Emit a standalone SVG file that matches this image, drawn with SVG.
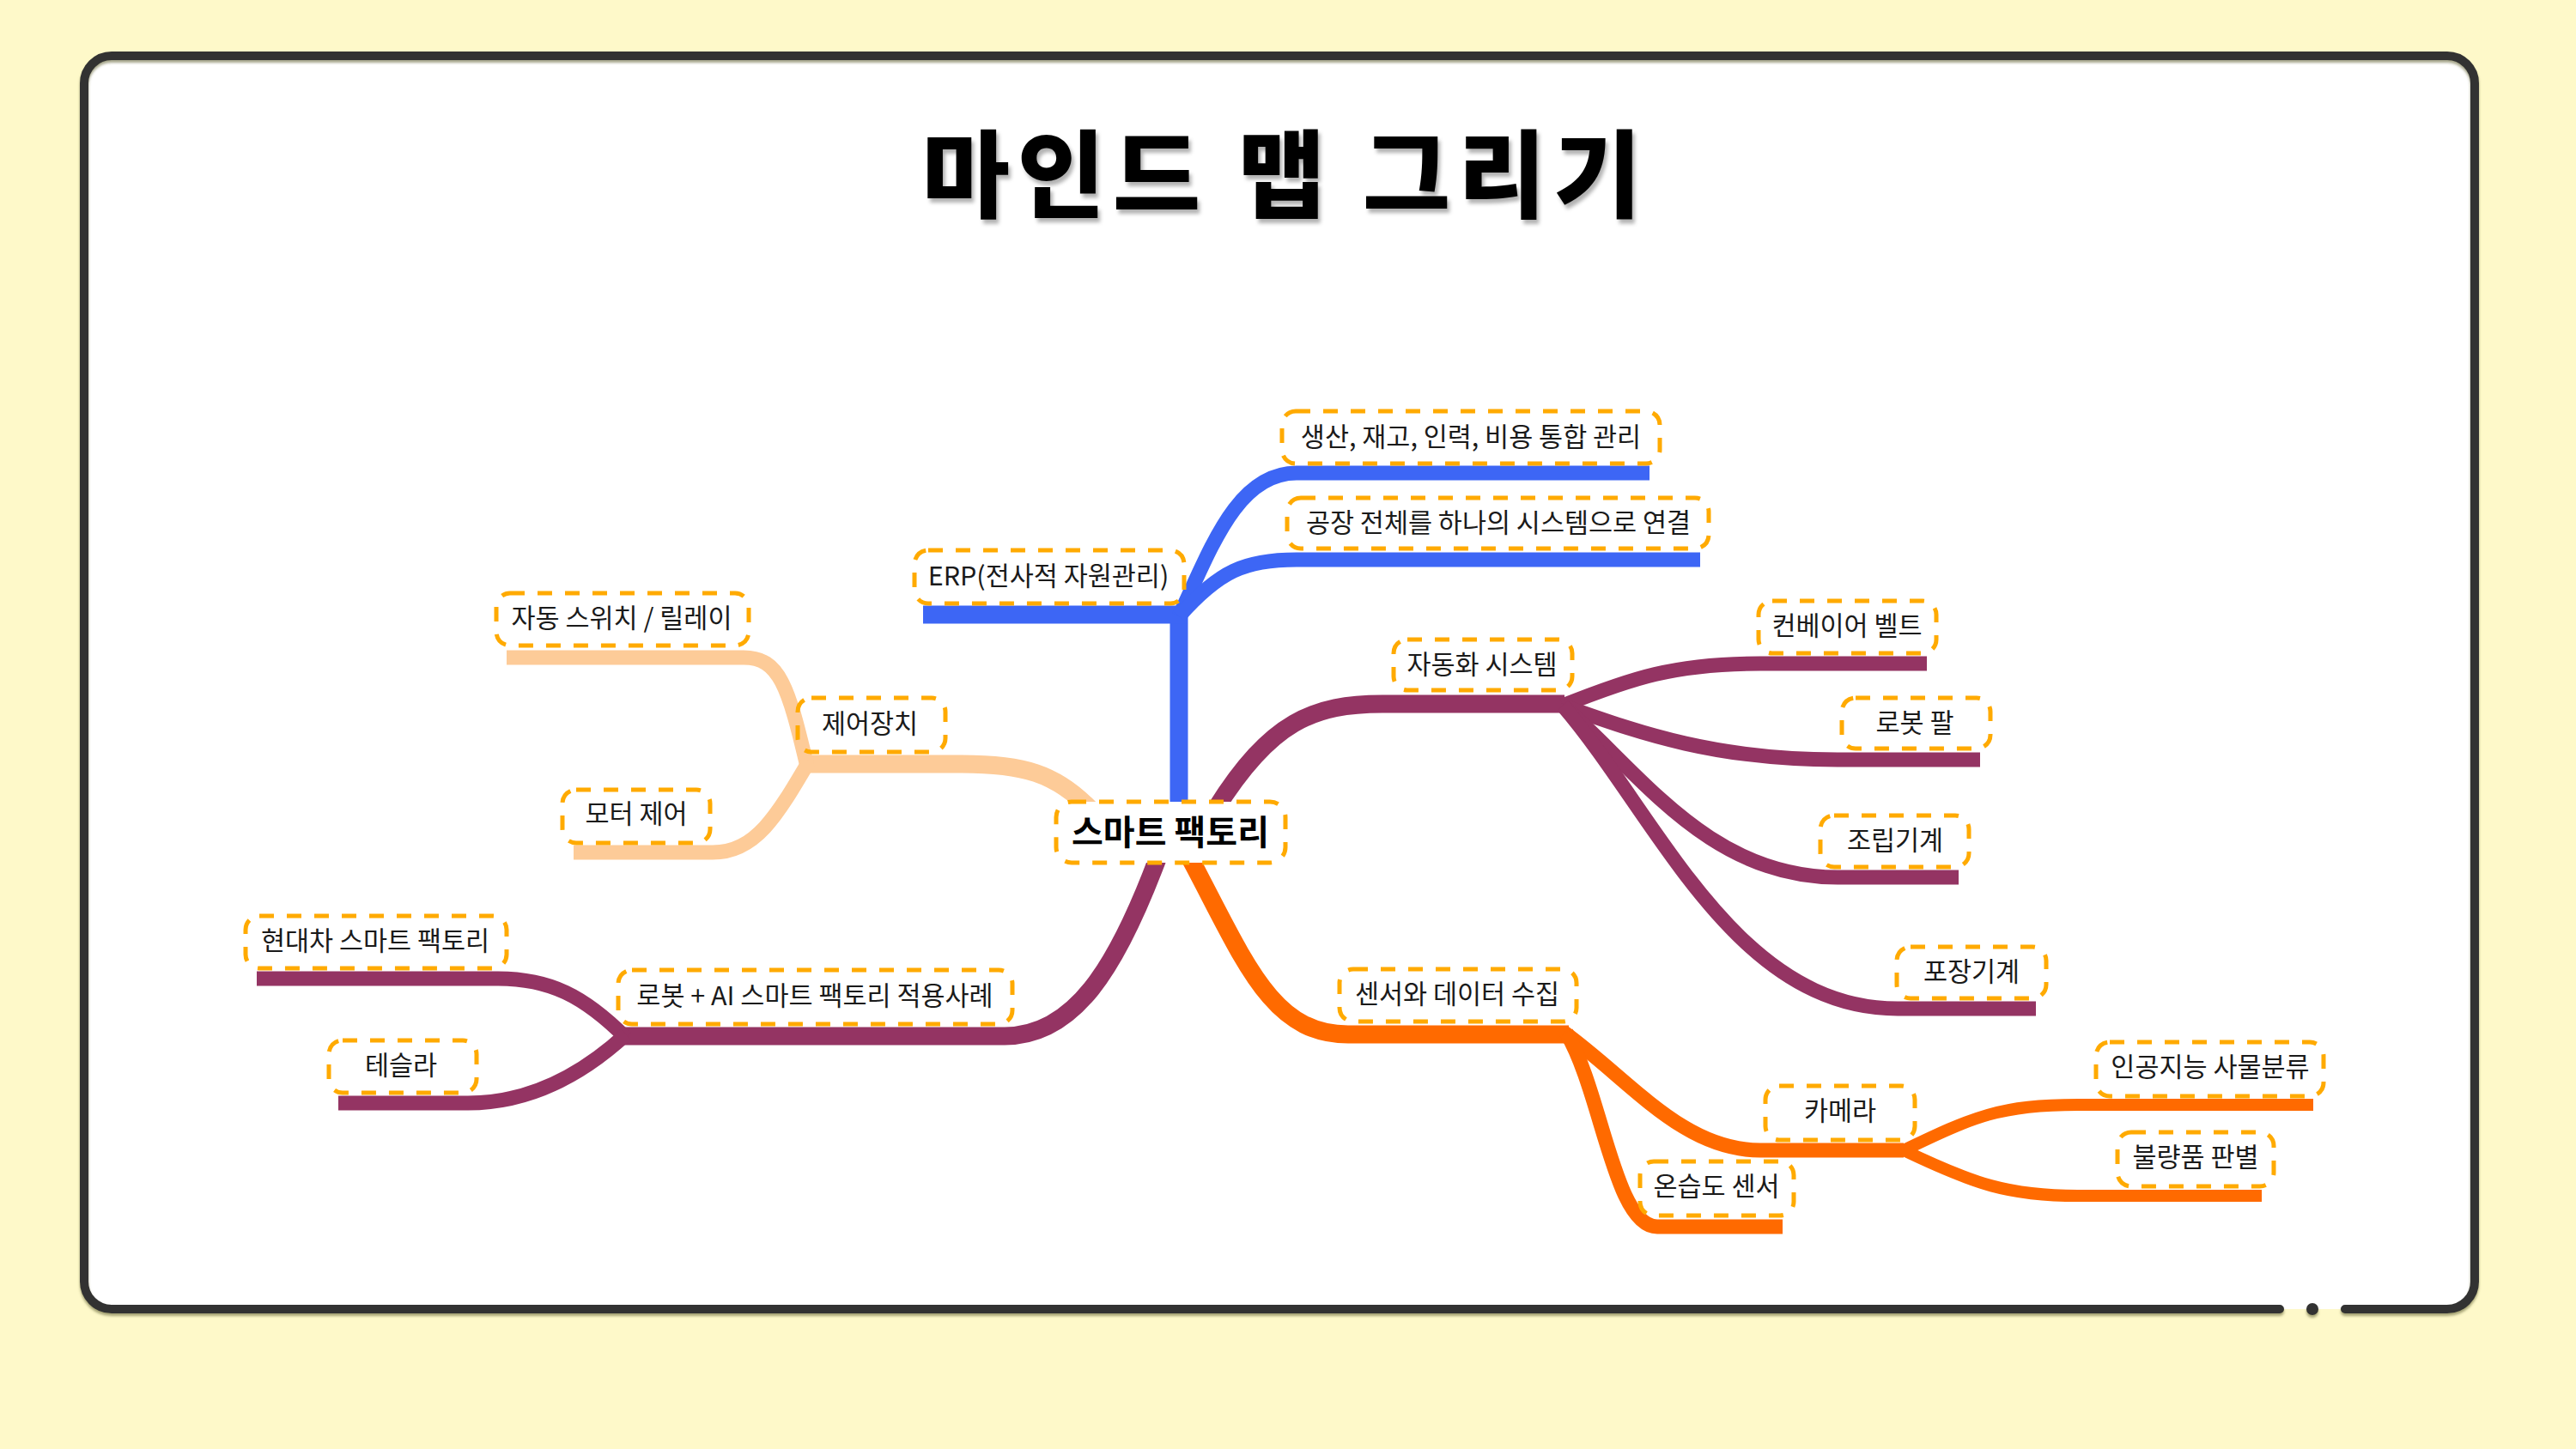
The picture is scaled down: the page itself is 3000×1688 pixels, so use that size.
<svg xmlns="http://www.w3.org/2000/svg" width="3000" height="1688" viewBox="0 0 3000 1688">
<defs>
<filter id="tsh" x="-10%" y="-20%" width="120%" height="150%"><feDropShadow dx="3" dy="5" stdDeviation="2" flood-color="#000" flood-opacity="0.3"/></filter>
<filter id="fsh" x="-5%" y="-5%" width="110%" height="110%"><feDropShadow dx="0" dy="3" stdDeviation="1.5" flood-color="#6b6a3a" flood-opacity="0.6"/></filter>
<style>
.bg{fill:#FEF9C9}
.frame{fill:none;stroke:#333333;stroke-width:10;stroke-linecap:round}
.title{font-family:"Noto Sans CJK KR","Noto Sans",sans-serif;font-weight:900;font-size:111px;letter-spacing:9px;fill:#000;text-anchor:middle}
.c{fill:none;stroke-linecap:butt}
.blue{stroke:#3D66F5}
.purple{stroke:#943463}
.peach{stroke:#FDCB98}
.orange{stroke:#FF6A00}
.w1{stroke-width:21}
.w2{stroke-width:17}
.w3{stroke-width:14}
.box{fill:none;stroke:#FFAA00;stroke-width:5;stroke-dasharray:17 15}
.cbox{fill:#FFFFFF;stroke:#FFAA00;stroke-width:5;stroke-dasharray:17 15}
.t{font-family:"Noto Sans CJK KR","Noto Sans",sans-serif;font-size:30.5px;fill:#1a1a1a;text-anchor:middle}
.tc{font-family:"Noto Sans CJK KR","Noto Sans",sans-serif;font-size:40px;font-weight:700;fill:#000;text-anchor:middle}
</style>
</defs>
<rect class="bg" x="0" y="0" width="3000" height="1688"/>
<rect x="98" y="65" width="2784" height="1460" rx="32" fill="#FFFFFF"/>
<g filter="url(#fsh)">
<path class="frame" d="M2655,1525 H130 A32,32 0 0 1 98,1493 V97 A32,32 0 0 1 130,65 H2850 A32,32 0 0 1 2882,97 V1493 A32,32 0 0 1 2850,1525 H2731"/>
<circle cx="2693" cy="1525" r="7" fill="#333333"/>
</g>
<text class="title" x="1497" y="245" filter="url(#tsh)">마인드 맵 그리기</text>

<g id="connectors">
<path class="c blue w1" d="M1373,945 V706"/>
<path class="c blue w1" d="M1075,716 H1383"/>
<path class="c blue w2" d="M1373,718 C1410,640 1440,551 1510,551 H1921"/>
<path class="c blue w2" d="M1373,718 C1420,665 1450,652 1510,652 H1980"/>
<path class="c peach w1" d="M1272,945 C1230,900 1190,890 1120,890 H936"/>
<path class="c peach w2" d="M940,893 C918,800 908,766 866,766 H590"/>
<path class="c peach w2" d="M942,887 C905,950 880,993 830,993 H668"/>
<path class="c purple w1" d="M1416,942 C1480,840 1530,820 1610,820 H1822"/>
<path class="c purple w2" d="M1820,822 C1900,790 1950,773 2050,773 H2244"/>
<path class="c purple w2" d="M1820,822 C1900,850 1990,885 2140,885 H2306"/>
<path class="c purple w2" d="M1820,822 C1910,900 1990,1022 2140,1022 H2281"/>
<path class="c purple w2" d="M1820,822 C1930,950 2020,1175 2210,1175 H2371"/>
<path class="c purple w1" d="M1350,995 C1300,1130 1250,1207 1170,1207 H727"/>
<path class="c purple w2" d="M729,1209 C680,1160 640,1140 580,1140 H299"/>
<path class="c purple w2" d="M729,1205 C680,1250 620,1285 545,1285 H394"/>
<path class="c orange w1" d="M1385,998 C1450,1120 1480,1205 1570,1205 H1827"/>
<path class="c orange w2" d="M1822,1203 C1900,1260 1960,1340 2050,1340 H2217"/>
<path class="c orange w2" d="M1824,1203 C1865,1270 1880,1429 1930,1429 H2076"/>
<path class="c orange w3" d="M2215,1341 C2300,1300 2330,1287 2420,1287 H2694"/>
<path class="c orange w3" d="M2215,1339 C2300,1380 2340,1393 2420,1393 H2634"/>
</g>

<g id="node-center"><rect class="cbox" x="1230" y="934" width="267" height="71" rx="18"/><text class="tc" x="1363" y="984">스마트 팩토리</text></g>
<g id="node-erp"><rect class="box" x="1065" y="641" width="314" height="62" rx="16"/><text class="t" x="1221" y="682">ERP(전사적 자원관리)</text></g>
<g id="node-erp1"><rect class="box" x="1493" y="479" width="440" height="61" rx="16"/><text class="t" x="1713" y="520">생산, 재고, 인력, 비용 통합 관리</text></g>
<g id="node-erp2"><rect class="box" x="1499" y="580" width="491" height="59" rx="16"/><text class="t" x="1745" y="620">공장 전체를 하나의 시스템으로 연결</text></g>
<g id="node-auto"><rect class="box" x="1623" y="745" width="208" height="59" rx="16"/><text class="t" x="1726" y="785">자동화 시스템</text></g>
<g id="node-conv"><rect class="box" x="2048" y="700" width="207" height="61" rx="16"/><text class="t" x="2151" y="740">컨베이어 벨트</text></g>
<g id="node-arm"><rect class="box" x="2145" y="813" width="173" height="59" rx="16"/><text class="t" x="2230" y="853">로봇 팔</text></g>
<g id="node-assem"><rect class="box" x="2120" y="950" width="173" height="60" rx="16"/><text class="t" x="2207" y="990">조립기계</text></g>
<g id="node-pack"><rect class="box" x="2209" y="1103" width="174" height="60" rx="16"/><text class="t" x="2296" y="1143">포장기계</text></g>
<g id="node-ctrl"><rect class="box" x="929" y="813" width="172" height="63" rx="16"/><text class="t" x="1013" y="854">제어장치</text></g>
<g id="node-switch"><rect class="box" x="578" y="691" width="294" height="61" rx="16"/><text class="t" x="724" y="731">자동 스위치 / 릴레이</text></g>
<g id="node-motor"><rect class="box" x="655" y="920" width="172" height="62" rx="16"/><text class="t" x="741" y="959">모터 제어</text></g>
<g id="node-robotai"><rect class="box" x="720" y="1130" width="459" height="63" rx="16"/><text class="t" x="949" y="1171">로봇 + AI 스마트 팩토리 적용사례</text></g>
<g id="node-hyundai"><rect class="box" x="286" y="1067" width="304" height="61" rx="16"/><text class="t" x="437" y="1107">현대차 스마트 팩토리</text></g>
<g id="node-tesla"><rect class="box" x="383" y="1212" width="172" height="61" rx="16"/><text class="t" x="467" y="1252">테슬라</text></g>
<g id="node-sensor"><rect class="box" x="1560" y="1129" width="276" height="61" rx="16"/><text class="t" x="1697" y="1169">센서와 데이터 수집</text></g>
<g id="node-camera"><rect class="box" x="2056" y="1265" width="174" height="63" rx="16"/><text class="t" x="2143" y="1305">카메라</text></g>
<g id="node-humid"><rect class="box" x="1910" y="1353" width="179" height="63" rx="16"/><text class="t" x="1999" y="1393">온습도 센서</text></g>
<g id="node-ai"><rect class="box" x="2441" y="1214" width="265" height="63" rx="16"/><text class="t" x="2574" y="1254">인공지능 사물분류</text></g>
<g id="node-defect"><rect class="box" x="2466" y="1319" width="182" height="63" rx="16"/><text class="t" x="2557" y="1359">불량품 판별</text></g>
</svg>
